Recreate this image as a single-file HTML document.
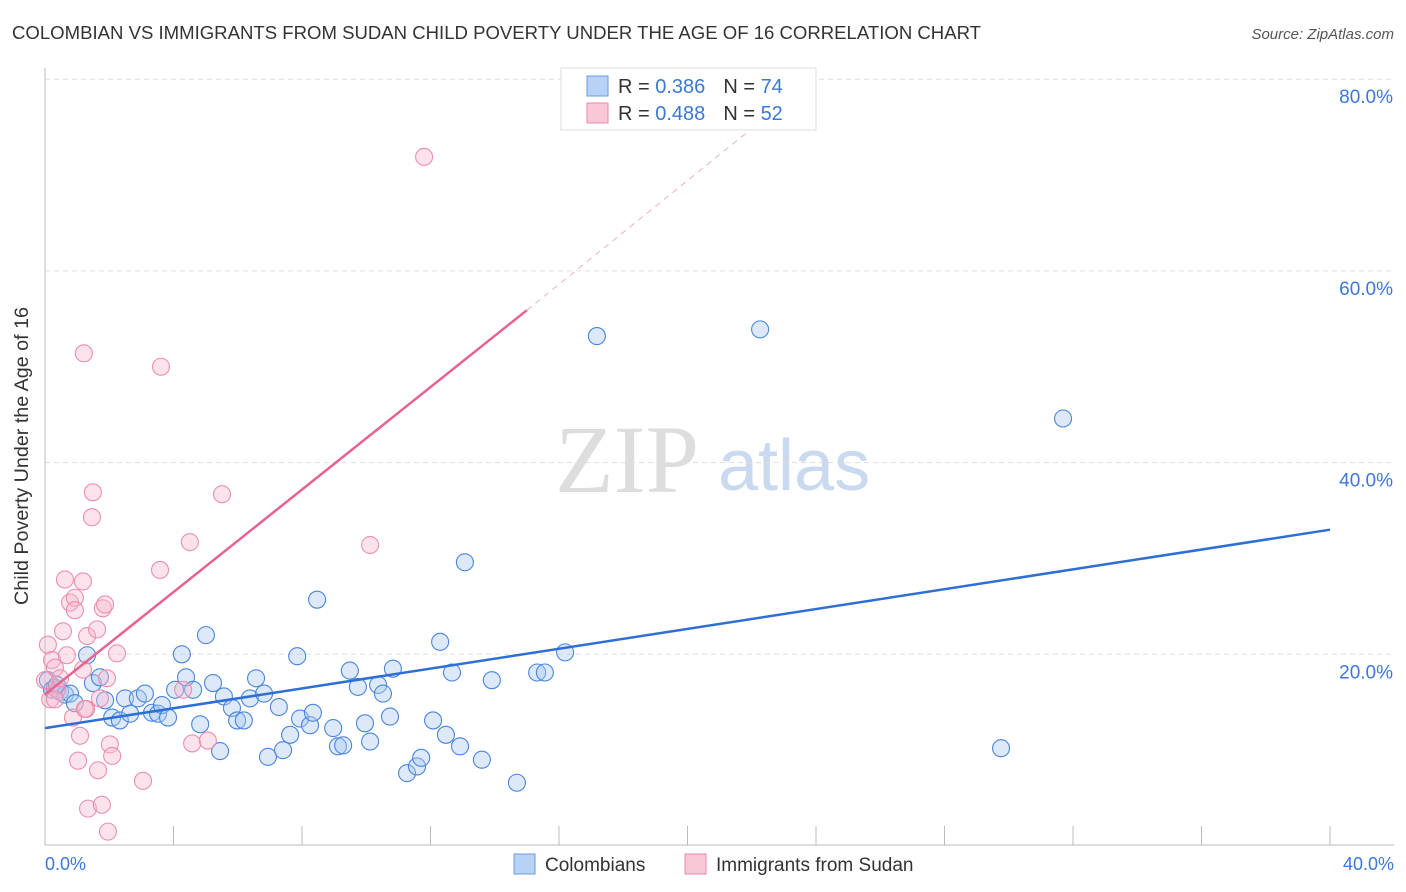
<!DOCTYPE html>
<html><head><meta charset="utf-8"><style>
body{margin:0;background:#fff;font-family:"Liberation Sans",sans-serif}
svg{display:block}
</style></head><body>
<svg width="1406" height="892" xmlns="http://www.w3.org/2000/svg">
<text x="12" y="39" font-size="18" fill="#333" textLength="969" lengthAdjust="spacingAndGlyphs">COLOMBIAN VS IMMIGRANTS FROM SUDAN CHILD POVERTY UNDER THE AGE OF 16 CORRELATION CHART</text>
<text x="1394" y="39" font-size="15" fill="#555" font-style="italic" text-anchor="end">Source: ZipAtlas.com</text>
<text x="555" y="492" font-size="96" fill="#ddd" font-family="Liberation Serif,serif">ZIP</text>
<text x="718" y="490" font-size="72" fill="#c9d9ef">atlas</text>
<g id="grid"></g>
<line x1="45" y1="68" x2="45" y2="845" stroke="#bbb"/>
<line x1="45" y1="845" x2="1394" y2="845" stroke="#bbb"/>
<text x="28" y="456" font-size="19" fill="#333" text-anchor="middle" textLength="298" lengthAdjust="spacingAndGlyphs" transform="rotate(-90 28 456)">Child Poverty Under the Age of 16</text>
<text x="45" y="870" font-size="18" fill="#3b78d8">0.0%</text>
<text x="1394" y="870" font-size="18" fill="#3b78d8" text-anchor="end">40.0%</text>
<g id="pts"></g>
<g id="lines"></g>
<g>
<rect x="561" y="68" width="255" height="62" fill="#fff" stroke="#ddd"/>
<rect x="587" y="76" width="21" height="20" fill="#b8d2f5" stroke="#6a9ce0"/>
<rect x="587" y="103" width="21" height="20" fill="#f9c8d6" stroke="#eb8aaa"/>
<text x="618" y="93" font-size="20" fill="#333">R = <tspan fill="#3b78d8">0.386</tspan><tspan dx="18">N = </tspan><tspan fill="#3b78d8">74</tspan></text>
<text x="618" y="120" font-size="20" fill="#333">R = <tspan fill="#3b78d8">0.488</tspan><tspan dx="18">N = </tspan><tspan fill="#3b78d8">52</tspan></text>
</g>
<g>
<rect x="514" y="854" width="21" height="20" fill="#b8d2f5" stroke="#6a9ce0"/>
<text x="545" y="871" font-size="19" fill="#333">Colombians</text>
<rect x="685" y="854" width="21" height="20" fill="#f9c8d6" stroke="#eb8aaa"/>
<text x="716" y="871" font-size="19" fill="#333">Immigrants from Sudan</text>
</g>
</svg>
<script>
const yTicks=[20,40,60,80];
const xTicks=[0,4,8,12,16,20,24,28,32,36,40];
const blueX=[0.09,0.22,0.31,0.47,0.62,0.37,0.78,0.93,1.31,1.49,1.71,1.87,2.09,2.33,2.49,2.65,2.89,3.11,3.33,3.52,3.64,3.83,4.05,4.26,4.39,4.61,4.83,5.01,5.23,5.45,5.57,5.82,5.98,6.19,6.38,6.57,6.82,6.94,7.28,7.41,7.63,7.85,7.94,8.25,8.34,8.47,8.97,9.12,9.28,9.49,9.74,9.96,10.12,10.37,10.52,10.74,10.83,11.27,11.58,11.71,12.08,12.30,12.48,12.67,12.92,13.07,13.60,13.91,14.69,15.32,15.56,16.19,17.18,22.26,29.76,31.69];
const blueY=[17.3,16.3,16.5,16.1,15.8,16.8,15.9,14.9,19.9,17.0,17.6,15.2,13.4,13.1,15.4,13.8,15.4,15.9,13.9,13.8,14.7,13.4,16.3,20.0,17.6,16.3,12.7,22.0,17.0,9.9,15.6,14.4,13.1,13.1,15.4,17.5,15.9,9.3,14.5,10.0,11.6,19.8,13.3,12.6,13.9,25.7,12.3,10.4,10.5,18.3,16.6,12.8,10.9,16.8,15.9,13.5,18.5,7.6,8.3,9.2,13.1,21.3,11.6,18.1,10.4,29.6,9.0,17.3,6.6,18.1,18.1,20.2,53.2,53.9,10.2,44.6];
const pinkX=[0.09,0.16,0.22,0.31,0.37,0.47,0.56,0.68,0.78,0.87,0.93,0.93,1.03,1.09,1.18,1.18,1.21,1.28,1.31,1.34,1.46,1.49,1.62,1.65,1.71,1.77,1.80,1.87,1.96,2.02,2.09,2.24,3.05,3.58,3.61,4.30,4.51,4.58,5.07,5.51,10.12,11.80,0.62,1.93,0.31,0.0,1.24];
const pinkY=[21.0,15.3,19.4,18.6,16.3,17.5,22.4,19.9,25.4,13.4,25.9,24.6,8.9,11.5,27.6,18.4,51.4,14.3,21.9,3.9,34.3,36.9,22.6,7.9,15.4,4.3,24.8,25.2,1.5,10.6,9.4,20.1,6.8,28.8,50.0,16.3,31.7,10.7,11.0,36.7,31.4,71.9,27.8,17.5,15.3,17.3,14.3];
const blueLine=[[0,12.3],[40,33.0]];
const pinkLine=[[0,15.8],[15.0,55.9]];
const pinkDash=[[15.0,55.9],[23.5,78.9]];
const X=v=>45+v/40*1285, Y=v=>846-v/20*191.7;
const NS="http://www.w3.org/2000/svg";
const mk=(t,a,p)=>{const e=document.createElementNS(NS,t);for(const k in a)e.setAttribute(k,a[k]);document.getElementById(p).appendChild(e);return e;};
yTicks.forEach(t=>{
 const l=mk('line',{x1:45,x2:1394,y1:Y(t),y2:Y(t),stroke:'#ddd','stroke-dasharray':'5,4'},'grid');
 
 
 const tx=mk('text',{x:1393,y:Y(t)+24,'font-size':19,fill:'#3b78d8','text-anchor':'end'},'grid');
 tx.textContent=t.toFixed(1)+'%';
 
 
});
xTicks.forEach(t=>{
 const l=mk('line',{x1:X(t),x2:X(t),y1:826,y2:845,stroke:'#bbb'},'grid');
 
 
});
blueX.forEach((v,i)=>{
 const c=mk('circle',{cx:X(v),cy:Y(blueY[i]),r:8.5,fill:'rgba(170,200,240,0.4)',stroke:'#4a86dc','stroke-width':1.1},'pts');
 
 
});
pinkX.forEach((v,i)=>{
 const c=mk('circle',{cx:X(v),cy:Y(pinkY[i]),r:8.5,fill:'rgba(248,185,205,0.4)',stroke:'#ec8fae','stroke-width':1.1},'pts');
 
 
});
const bl=mk('line',{x1:X(blueLine[0][0]),y1:Y(blueLine[0][1]),x2:X(blueLine[1][0]),y2:Y(blueLine[1][1]),stroke:'#2e6fd6','stroke-width':2.5},'lines');


const pl=mk('line',{x1:X(pinkLine[0][0]),y1:Y(pinkLine[0][1]),x2:X(pinkLine[1][0]),y2:Y(pinkLine[1][1]),stroke:'#e8628e','stroke-width':2.5},'lines');


const pd=mk('line',{x1:X(pinkDash[0][0]),y1:Y(pinkDash[0][1]),x2:X(pinkDash[1][0]),y2:Y(pinkDash[1][1]),stroke:'#eeb0c4','stroke-width':1,'stroke-dasharray':'6,5'},'lines');


</script>
</body></html>
